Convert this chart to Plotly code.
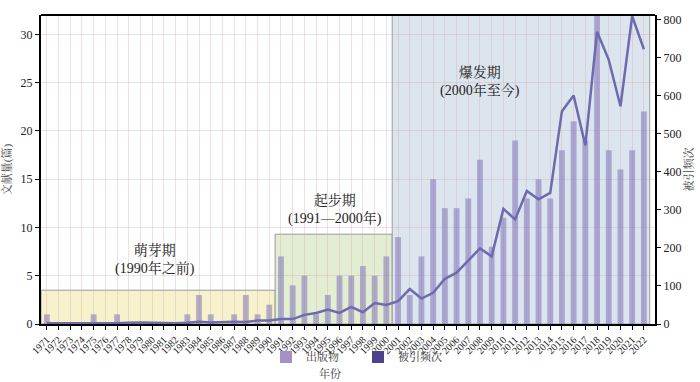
import plotly.graph_objects as go

years = list(range(1971, 2023))
publications = [1, 0, 0, 0, 1, 0, 1, 0, 0, 0, 0, 0, 1, 3, 1, 0, 1, 3, 1, 2,
                7, 4, 5, 1, 3, 5, 5, 6, 5, 7,
                9, 3, 7, 15, 12, 12, 13, 17, 8, 11, 19, 13, 15, 13, 18, 21, 19, 32, 18, 16, 18, 22]
citations = [2, 2, 2, 1, 1, 2, 2, 3, 4, 3, 2, 2, 3, 6, 4, 5, 6, 5, 9, 9,
             13, 13, 24, 29, 38, 29, 45, 31, 55, 50,
             60, 92, 67, 82, 119, 135, 167, 199, 178, 303, 275, 350, 328, 345, 560, 601, 470, 769, 695, 573, 810, 723]

periods = ["萌芽期<br>(1990年之前)", "起步期<br>(1991—2000年)", "爆发期<br>(2000年至今)"]
period_start = [1970.5, 1990.5, 2000.5]
period_end = [1990.5, 2000.5, 2022.5]
period_top = [3.5, 9.3, 32]
period_label_x = [1980.2, 1995.6, 2008.0]
period_label_y = [6.7, 11.9, 25.1]
period_fill = ["#f7f2cb", "#e2edd1", "#dce4ee"]

FONT = "Liberation Serif, Times New Roman, Noto Serif CJK SC, Noto Sans CJK SC, serif"

PL, PR, PT, PB = 41, 655, 15, 325
PW, PH = PR - PL, PB - PT

fig = go.Figure()

for s, e, t, c in zip(period_start, period_end, period_top, period_fill):
    fig.add_shape(type="rect", xref="x", yref="y", x0=s, x1=e, y0=0, y1=t,
                  fillcolor=c, line=dict(color="#9a9a9a", width=1), layer="below")

for lab, lx, ly in zip(periods, period_label_x, period_label_y):
    fig.add_annotation(x=lx, y=ly, xref="x", yref="y", text=lab, showarrow=False,
                       font=dict(family=FONT, size=14, color="#222222"))

fig.add_trace(go.Bar(x=years, y=publications, width=0.5,
                     marker=dict(color="rgba(128,114,186,0.55)", line=dict(width=0)),
                     showlegend=False, yaxis="y"))
fig.add_trace(go.Scatter(x=years, y=citations, mode="lines",
                         line=dict(color="#6e6aae", width=2.5),
                         showlegend=False, yaxis="y2"))

# legend entries
fig.add_trace(go.Bar(x=[None], y=[None], name="出版物",
                     marker=dict(color="#a691c6", line=dict(width=0))))
fig.add_trace(go.Bar(x=[None], y=[None], name="被引频次",
                     marker=dict(color="#4b418d", line=dict(width=0))))

fig.add_annotation(x=(330 - PL) / PW, y=-(375 - PB) / PH, xref="paper", yref="paper",
                   xanchor="center", yanchor="middle",
                   text="年份", showarrow=False,
                   font=dict(family=FONT, size=11, color="#333333"))

fig.update_layout(
    template="none",
    width=700, height=382,
    margin=dict(l=PL, r=700 - PR, t=PT, b=382 - PB),
    paper_bgcolor="white", plot_bgcolor="white",
    barmode="overlay",
    font=dict(family=FONT, size=11, color="#222222"),
    showlegend=True,
    legend=dict(orientation="h", x=(266 - PL) / PW, xanchor="left",
                y=-(357 - PB) / PH, yanchor="middle",
                font=dict(family=FONT, size=11, color="#333333"),
                bgcolor="rgba(0,0,0,0)", entrywidth=47, itemclick=False),
    xaxis=dict(range=[1970.5, 2022.95], tickmode="array", tickvals=years,
               ticktext=[str(y) for y in years], tickangle=-45,
               tickfont=dict(family=FONT, size=10, color="#222222"),
               showgrid=True, gridcolor="rgba(205,170,180,0.35)", gridwidth=1,
               showline=True, linecolor="black", linewidth=2,
               ticks="outside", ticklen=4, tickwidth=1, tickcolor="black",
               zeroline=False, automargin=False, mirror=False),
    yaxis=dict(range=[0, 32], tickvals=[0, 5, 10, 15, 20, 25, 30],
               tickfont=dict(family=FONT, size=12, color="#222222"),
               showgrid=True, gridcolor="rgba(205,170,180,0.35)", gridwidth=1,
               showline=True, linecolor="black", linewidth=2,
               ticks="outside", ticklen=4, tickwidth=1, tickcolor="black",
               zeroline=False, automargin=False,
               title=dict(text="文献量(篇)", font=dict(family=FONT, size=11, color="#444444"),
                          standoff=12)),
    yaxis2=dict(range=[0, 813], overlaying="y", side="right",
                tickvals=[0, 100, 200, 300, 400, 500, 600, 700, 800],
                tickfont=dict(family=FONT, size=12, color="#222222"),
                showgrid=False, showline=True, linecolor="black", linewidth=2,
                ticks="outside", ticklen=4, tickwidth=1, tickcolor="black",
                zeroline=False, automargin=False,
                title=dict(text="被引频次", font=dict(family=FONT, size=11, color="#444444"),
                           standoff=5)),
)

# top frame line
fig.add_shape(type="line", xref="paper", yref="paper", x0=0, x1=1, y0=1, y1=1,
              line=dict(color="black", width=2))

fig.write_html("out.html", config={"displayModeBar": False},
               post_script="document.body.style.margin='0';document.body.style.padding='0';")
